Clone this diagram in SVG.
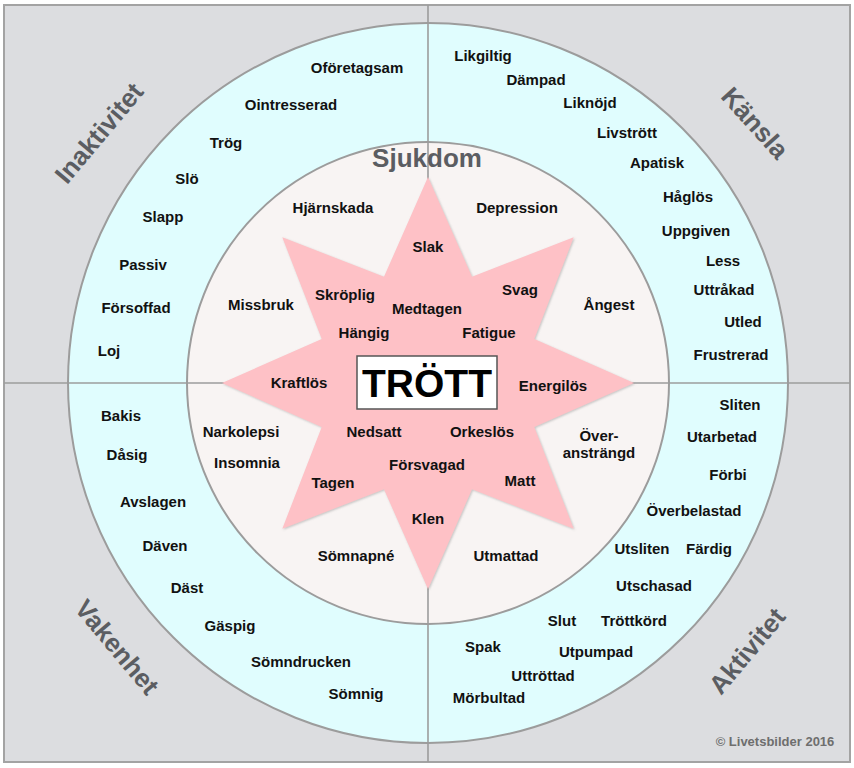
<svg xmlns="http://www.w3.org/2000/svg" width="854" height="768" viewBox="0 0 854 768">
<style>
  .w { font-family: "Liberation Sans", Arial, sans-serif; font-weight: bold; font-size: 15px; fill: #111; text-anchor: middle; }
  .cat { font-family: "Liberation Sans", Arial, sans-serif; font-weight: bold; font-size: 26px; fill: #5b5d62; text-anchor: middle; }
  .ring { stroke: #9c9c9c; stroke-width: 2; }
  .axis { stroke: #9c9c9c; stroke-width: 1.6; fill: none; }
</style>
<defs>
  <filter id="sh" x="-10%" y="-10%" width="120%" height="120%">
    <feDropShadow dx="1" dy="1" stdDeviation="1" flood-color="#888" flood-opacity="0.45"/>
  </filter>
</defs>
<rect x="0" y="0" width="854" height="768" fill="#ffffff"/>
<rect id="frame" x="4" y="5" width="846" height="757" fill="#dcdde0" stroke="#a3a3a3" stroke-width="2"/>
<g id="outer-ring"><circle cx="428" cy="383" r="360" fill="#e0fdfe" class="ring"/></g>
<g id="inner-ring"><circle cx="428" cy="383" r="241" fill="#f8f4f3" class="ring"/></g>
<g id="connectors">
  <line class="axis" x1="428" y1="5" x2="428" y2="762"/>
  <line class="axis" x1="4" y1="383" x2="850" y2="383"/>
</g>
<g id="star">
  <polygon filter="url(#sh)" fill="#fec1c6" points="428,177 472,276.75 573.7,237.3 534.25,339 634,383 534.25,427 573.7,528.7 472,489.25 428,589 384,489.25 282.3,528.7 321.75,427 222,383 321.75,339 282.3,237.3 384,276.75"/>
</g>
<g id="center">
  <rect x="357" y="356" width="140" height="53" fill="#ffffff" stroke="#555" stroke-width="1.5"/>
  <text x="427" y="397" font-family="'Liberation Sans', Arial, sans-serif" font-weight="bold" font-size="39" fill="#000" text-anchor="middle">TRÖTT</text>
</g>
<g id="categories">
  <text class="cat" transform="translate(99,133) rotate(-50)" y="9">Inaktivitet</text>
  <text class="cat" transform="translate(755,123) rotate(48)" y="9">Känsla</text>
  <text class="cat" transform="translate(117,647) rotate(50)" y="9">Vakenhet</text>
  <text class="cat" transform="translate(747,651) rotate(-50)" y="9">Aktivitet</text>
  <text class="cat" x="427" y="167">Sjukdom</text>
</g>
<g id="inaktivitet-words">
  <text class="w" x="357" y="73">Oföretagsam</text>
  <text class="w" x="291" y="110">Ointresserad</text>
  <text class="w" x="226" y="148">Trög</text>
  <text class="w" x="187" y="184">Slö</text>
  <text class="w" x="163" y="222">Slapp</text>
  <text class="w" x="143" y="270">Passiv</text>
  <text class="w" x="136" y="313">Försoffad</text>
  <text class="w" x="109" y="356">Loj</text>
</g>
<g id="kansla-words">
  <text class="w" x="483" y="61">Likgiltig</text>
  <text class="w" x="536" y="85">Dämpad</text>
  <text class="w" x="590" y="108">Liknöjd</text>
  <text class="w" x="627" y="138">Livstrött</text>
  <text class="w" x="657" y="168">Apatisk</text>
  <text class="w" x="688" y="202">Håglös</text>
  <text class="w" x="696" y="236">Uppgiven</text>
  <text class="w" x="723" y="266">Less</text>
  <text class="w" x="724" y="295">Uttråkad</text>
  <text class="w" x="743" y="327">Utled</text>
  <text class="w" x="731" y="360">Frustrerad</text>
</g>
<g id="vakenhet-words">
  <text class="w" x="121" y="421">Bakis</text>
  <text class="w" x="127" y="460">Dåsig</text>
  <text class="w" x="153" y="507">Avslagen</text>
  <text class="w" x="165" y="551">Däven</text>
  <text class="w" x="187" y="593">Däst</text>
  <text class="w" x="230" y="631">Gäspig</text>
  <text class="w" x="301" y="667">Sömndrucken</text>
  <text class="w" x="356" y="699">Sömnig</text>
</g>
<g id="aktivitet-words">
  <text class="w" x="740" y="410">Sliten</text>
  <text class="w" x="722" y="442">Utarbetad</text>
  <text class="w" x="728" y="480">Förbi</text>
  <text class="w" x="694" y="516">Överbelastad</text>
  <text class="w" x="642" y="554">Utsliten</text>
  <text class="w" x="709" y="554">Färdig</text>
  <text class="w" x="654" y="591">Utschasad</text>
  <text class="w" x="562" y="626">Slut</text>
  <text class="w" x="634" y="626">Tröttkörd</text>
  <text class="w" x="483" y="652">Spak</text>
  <text class="w" x="596" y="657">Utpumpad</text>
  <text class="w" x="543" y="681">Uttröttad</text>
  <text class="w" x="489" y="703">Mörbultad</text>
</g>
<g id="sjukdom-words">
  <text class="w" x="333" y="213">Hjärnskada</text>
  <text class="w" x="517" y="213">Depression</text>
  <text class="w" x="261" y="310">Missbruk</text>
  <text class="w" x="609" y="310">Ångest</text>
  <text class="w" x="241" y="437">Narkolepsi</text>
  <text class="w" x="247" y="468">Insomnia</text>
  <text class="w" x="599" y="441">Över-</text>
  <text class="w" x="599" y="458">ansträngd</text>
  <text class="w" x="356" y="561">Sömnapné</text>
  <text class="w" x="506" y="561">Utmattad</text>
</g>
<g id="star-words">
  <text class="w" x="428" y="252">Slak</text>
  <text class="w" x="345" y="300">Skröplig</text>
  <text class="w" x="427" y="314">Medtagen</text>
  <text class="w" x="520" y="295">Svag</text>
  <text class="w" x="364" y="338">Hängig</text>
  <text class="w" x="489" y="338">Fatigue</text>
  <text class="w" x="299" y="388">Kraftlös</text>
  <text class="w" x="553" y="391">Energilös</text>
  <text class="w" x="374" y="437">Nedsatt</text>
  <text class="w" x="482" y="437">Orkeslös</text>
  <text class="w" x="427" y="470">Försvagad</text>
  <text class="w" x="333" y="488">Tagen</text>
  <text class="w" x="520" y="486">Matt</text>
  <text class="w" x="428" y="524">Klen</text>
</g>
<g id="copyright">
  <text x="775" y="746" font-family="'Liberation Sans', Arial, sans-serif" font-weight="bold" font-size="13" fill="#6e6e6e" text-anchor="middle">© Livetsbilder 2016</text>
</g>
</svg>
